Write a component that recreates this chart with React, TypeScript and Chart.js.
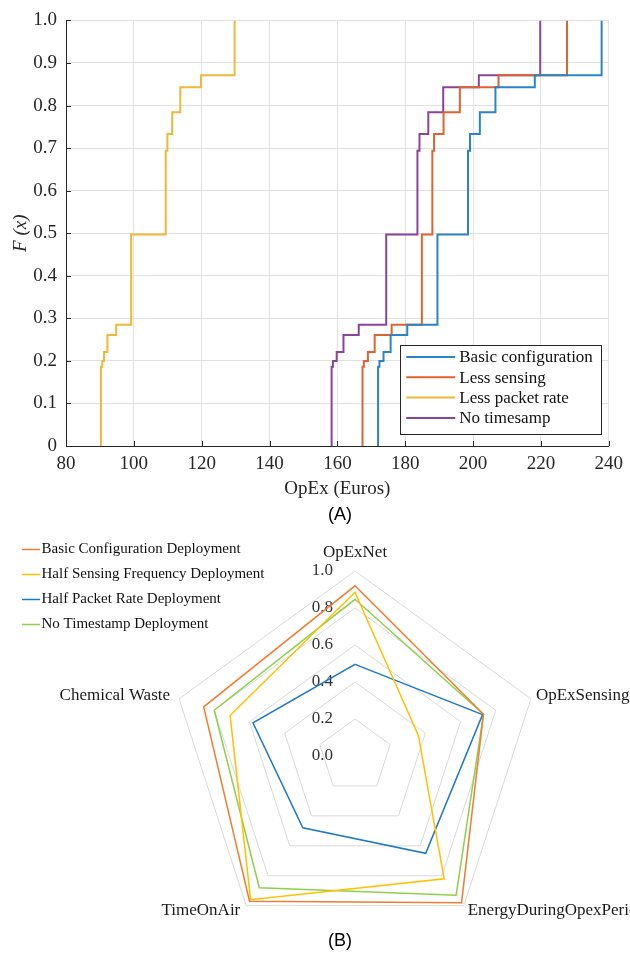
import React, { useEffect, useRef } from 'react';
import { Chart, registerables } from 'chart.js';

Chart.register(...registerables);

// ---------- Chart (A): empirical CDF of OpEx ----------
const ecdfLevels = [0.186, 0.2, 0.221, 0.261, 0.285, 0.497, 0.694, 0.733, 0.784, 0.843, 0.871, 1.0];
const basicConfigX = [172.0, 172.4, 173.6, 175.7, 180.6, 189.5, 198.5, 199.1, 202.0, 206.6, 218.2, 237.9];
const lessSensingX = [167.4, 167.8, 169.0, 171.0, 176.0, 184.9, 188.0, 188.5, 191.3, 196.1, 207.5, 227.7];
const lessPacketRateX = [90.3, 90.7, 91.2, 92.2, 94.8, 99.2, 109.4, 109.9, 111.3, 113.7, 119.8, 129.7];
const noTimestampX = [158.3, 158.7, 159.8, 161.8, 166.3, 174.4, 183.6, 184.2, 186.8, 191.2, 201.7, 219.8];
const ecdfNames = ['Basic configuration', 'Less sensing', 'Less packet rate', 'No timesamp'];
const ecdfColors = ['#2a84c6', '#dd6430', '#efb838', '#8a449c'];
const xTickLabels = ['80', '100', '120', '140', '160', '180', '200', '220', '240'];
const yTickLabels = ['0', '0.1', '0.2', '0.3', '0.4', '0.5', '0.6', '0.7', '0.8', '0.9', '1.0'];

// ---------- Chart (B): radar ----------
const radarAxes = ['OpExNet', 'OpExSensing', 'EnergyDuringOpexPeriod', 'TimeOnAir', 'Chemical Waste'];
const radarNames = [
  'Basic Configuration Deployment',
  'Half Sensing Frequency Deployment',
  'Half Packet Rate Deployment',
  'No Timestamp Deployment',
];
const basicDeployment = [0.92, 0.73, 0.98, 0.97, 0.86];
const halfSensingDeployment = [0.885, 0.36, 0.82, 0.96, 0.71];
const halfPacketDeployment = [0.495, 0.725, 0.65, 0.48, 0.58];
const noTimestampDeployment = [0.847, 0.73, 0.93, 0.88, 0.80];
const radarColors = ['#ED7D31', '#FFC000', '#1f78c8', '#8fcf4c'];
const rTickValues = [0, 0.2, 0.4, 0.6, 0.8, 1.0];
const rTickLabels = ['0.0', '0.2', '0.4', '0.6', '0.8', '1.0'];

const SERIF = "'Liberation Serif', 'Times New Roman', serif";
const SANS = "'Liberation Sans', Arial, sans-serif";
const AXIS_COLOR = '#262626';

function ecdfPoints(xs: number[]) {
  const pts: { x: number; y: number }[] = [{ x: xs[0], y: 0 }];
  xs.forEach((x, i) => pts.push({ x, y: ecdfLevels[i] }));
  return pts;
}

const inwardTicks = {
  id: 'inwardTicks',
  afterDraw(chart: any) {
    const { ctx, chartArea } = chart;
    const xs = chart.scales.x;
    const ys = chart.scales.y;
    ctx.save();
    ctx.strokeStyle = AXIS_COLOR;
    ctx.lineWidth = 1;
    ctx.beginPath();
    xs.ticks.forEach((t: any) => {
      const px = Math.round(xs.getPixelForValue(t.value)) + 0.5;
      ctx.moveTo(px, chartArea.bottom);
      ctx.lineTo(px, chartArea.bottom - 5);
    });
    ys.ticks.forEach((t: any) => {
      const py = Math.round(ys.getPixelForValue(t.value)) + 0.5;
      ctx.moveTo(chartArea.left, py);
      ctx.lineTo(chartArea.left + 5, py);
    });
    ctx.stroke();
    ctx.restore();
  },
};

const ecdfLegend = {
  id: 'ecdfLegend',
  afterDraw(chart: any) {
    const { ctx, chartArea } = chart;
    const w = 201;
    const h = 89;
    const right = chartArea.right - 7.5;
    const bottom = chartArea.bottom - 12;
    const left = right - w;
    const top = bottom - h;
    ctx.save();
    ctx.fillStyle = '#ffffff';
    ctx.fillRect(left, top, w, h);
    ctx.strokeStyle = AXIS_COLOR;
    ctx.lineWidth = 1;
    ctx.strokeRect(Math.round(left) + 0.5, Math.round(top) + 0.5, w, h);
    ctx.font = `17px ${SERIF}`;
    ctx.textBaseline = 'middle';
    ctx.textAlign = 'left';
    chart.data.datasets.forEach((ds: any, i: number) => {
      const y = top + 12 + i * 20.3;
      ctx.strokeStyle = ds.borderColor;
      ctx.lineWidth = 2;
      ctx.beginPath();
      ctx.moveTo(left + 6, y);
      ctx.lineTo(left + 55, y);
      ctx.stroke();
      ctx.fillStyle = '#111111';
      ctx.fillText(ds.label, left + 59, y + 1);
    });
    ctx.restore();
  },
};

const radarDecor = {
  id: 'radarDecor',
  beforeDatasetsDraw(chart: any) {
    const { ctx } = chart;
    const r = chart.scales.r;
    ctx.save();
    ctx.font = `17px ${SERIF}`;
    ctx.fillStyle = '#333333';
    ctx.textAlign = 'right';
    ctx.textBaseline = 'middle';
    rTickValues.forEach((v, i) => {
      const d = r.getDistanceFromCenterForValue(v);
      ctx.fillText(rTickLabels[i], r.xCenter - 22, r.yCenter - d);
    });
    ctx.restore();
  },
  afterDraw(chart: any) {
    const { ctx } = chart;
    const r = chart.scales.r;
    ctx.save();
    ctx.font = `17px ${SERIF}`;
    ctx.fillStyle = '#1a1a1a';
    ctx.textBaseline = 'middle';
    const offsets = [
      { dx: 0, dy: -18, align: 'center' },
      { dx: 5, dy: -3, align: 'left' },
      { dx: 4, dy: 5, align: 'left' },
      { dx: -6, dy: 5, align: 'right' },
      { dx: -9, dy: -3, align: 'right' },
    ];
    chart.data.labels.forEach((lab: string, i: number) => {
      const p = r.getPointPosition(i, r.drawingArea);
      const o = offsets[i];
      ctx.textAlign = o.align;
      ctx.fillText(lab, p.x + o.dx, p.y + o.dy);
    });
    // legend
    ctx.font = `15px ${SERIF}`;
    ctx.textAlign = 'left';
    chart.data.datasets.forEach((ds: any, i: number) => {
      const y = 24.5 + i * 25;
      ctx.strokeStyle = ds.borderColor;
      ctx.lineWidth = 1.5;
      ctx.beginPath();
      ctx.moveTo(22, y);
      ctx.lineTo(40, y);
      ctx.stroke();
      ctx.fillStyle = '#111111';
      ctx.fillText(ds.label, 41.5, y);
    });
    ctx.restore();
  },
};

export default function App() {
  const refA = useRef<HTMLCanvasElement | null>(null);
  const refB = useRef<HTMLCanvasElement | null>(null);

  useEffect(() => {
    const seriesX = [basicConfigX, lessSensingX, lessPacketRateX, noTimestampX];
    const chartA = new Chart(refA.current as HTMLCanvasElement, {
      type: 'line',
      data: {
        datasets: seriesX.map((xs, i) => ({
          label: ecdfNames[i],
          data: ecdfPoints(xs),
          borderColor: ecdfColors[i],
          backgroundColor: ecdfColors[i],
          borderWidth: 2,
          pointRadius: 0,
          fill: false,
          stepped: true,
        })),
      },
      options: {
        animation: false,
        responsive: false,
        events: [],
        layout: { padding: { left: 0, right: 17.5, top: 14, bottom: 0 } },
        plugins: { legend: { display: false }, tooltip: { enabled: false } },
        scales: {
          x: {
            type: 'linear',
            min: 80,
            max: 240,
            ticks: {
              stepSize: 20,
              padding: 7,
              autoSkip: false,
              maxRotation: 0,
              color: AXIS_COLOR,
              font: { family: SERIF, size: 19 },
              callback: (_v: any, i: number) => xTickLabels[i],
            },
            grid: { color: '#e1e1e1', lineWidth: 1, drawTicks: false },
            border: { color: AXIS_COLOR, width: 1 },
            title: {
              display: true,
              text: 'OpEx (Euros)',
              color: AXIS_COLOR,
              font: { family: SERIF, size: 19 },
              padding: { top: 0, bottom: 25 },
            },
            afterFit: (s: any) => {
              s.height = 79;
            },
          },
          y: {
            type: 'linear',
            min: 0,
            max: 1,
            ticks: {
              stepSize: 0.1,
              padding: 9,
              autoSkip: false,
              color: AXIS_COLOR,
              font: { family: SERIF, size: 19 },
              callback: (_v: any, i: number) => yTickLabels[i],
            },
            grid: { color: '#e1e1e1', lineWidth: 1, drawTicks: false },
            border: { color: AXIS_COLOR, width: 1 },
            title: {
              display: true,
              text: 'F (x)',
              color: AXIS_COLOR,
              font: { family: SERIF, size: 19, style: 'italic' },
              padding: { top: 9.5, bottom: 0 },
            },
            afterFit: (s: any) => {
              s.width = 66;
            },
          },
        },
      },
      plugins: [inwardTicks, ecdfLegend],
    } as any);

    const radarSeries = [basicDeployment, halfSensingDeployment, halfPacketDeployment, noTimestampDeployment];
    const chartB = new Chart(refB.current as HTMLCanvasElement, {
      type: 'radar',
      data: {
        labels: radarAxes,
        datasets: radarSeries.map((vals, i) => ({
          label: radarNames[i],
          data: vals,
          borderColor: radarColors[i],
          backgroundColor: radarColors[i],
          borderWidth: 1.5,
          pointRadius: 0,
          fill: false,
          tension: 0,
        })),
      },
      options: {
        animation: false,
        responsive: false,
        events: [],
        layout: { padding: { left: 170, right: 90, top: 46, bottom: 18 } },
        plugins: { legend: { display: false }, tooltip: { enabled: false } },
        scales: {
          r: {
            min: 0,
            max: 1,
            ticks: { display: false, stepSize: 0.2 },
            grid: { color: '#d9d9d9', lineWidth: 1, circular: false },
            angleLines: { display: false },
            pointLabels: { display: false },
          },
        },
      },
      plugins: [radarDecor],
    } as any);

    return () => {
      chartA.destroy();
      chartB.destroy();
    };
  }, []);

  return (
    <div style={{ position: 'fixed', left: 0, top: 0, width: 630, height: 959, overflow: 'hidden', background: '#ffffff' }}>
      <canvas ref={refA} width={630} height={525} style={{ position: 'absolute', left: 0, top: 0, display: 'block' }} />
      <div
        style={{
          position: 'absolute',
          left: 290,
          top: 503,
          width: 100,
          textAlign: 'center',
          fontFamily: SANS,
          fontSize: 18,
          lineHeight: '22px',
          color: '#000',
        }}
      >
        (A)
      </div>
      <canvas ref={refB} width={630} height={434} style={{ position: 'absolute', left: 0, top: 525, display: 'block' }} />
      <div
        style={{
          position: 'absolute',
          left: 290,
          top: 929,
          width: 100,
          textAlign: 'center',
          fontFamily: SANS,
          fontSize: 18,
          lineHeight: '22px',
          color: '#000',
        }}
      >
        (B)
      </div>
    </div>
  );
}
